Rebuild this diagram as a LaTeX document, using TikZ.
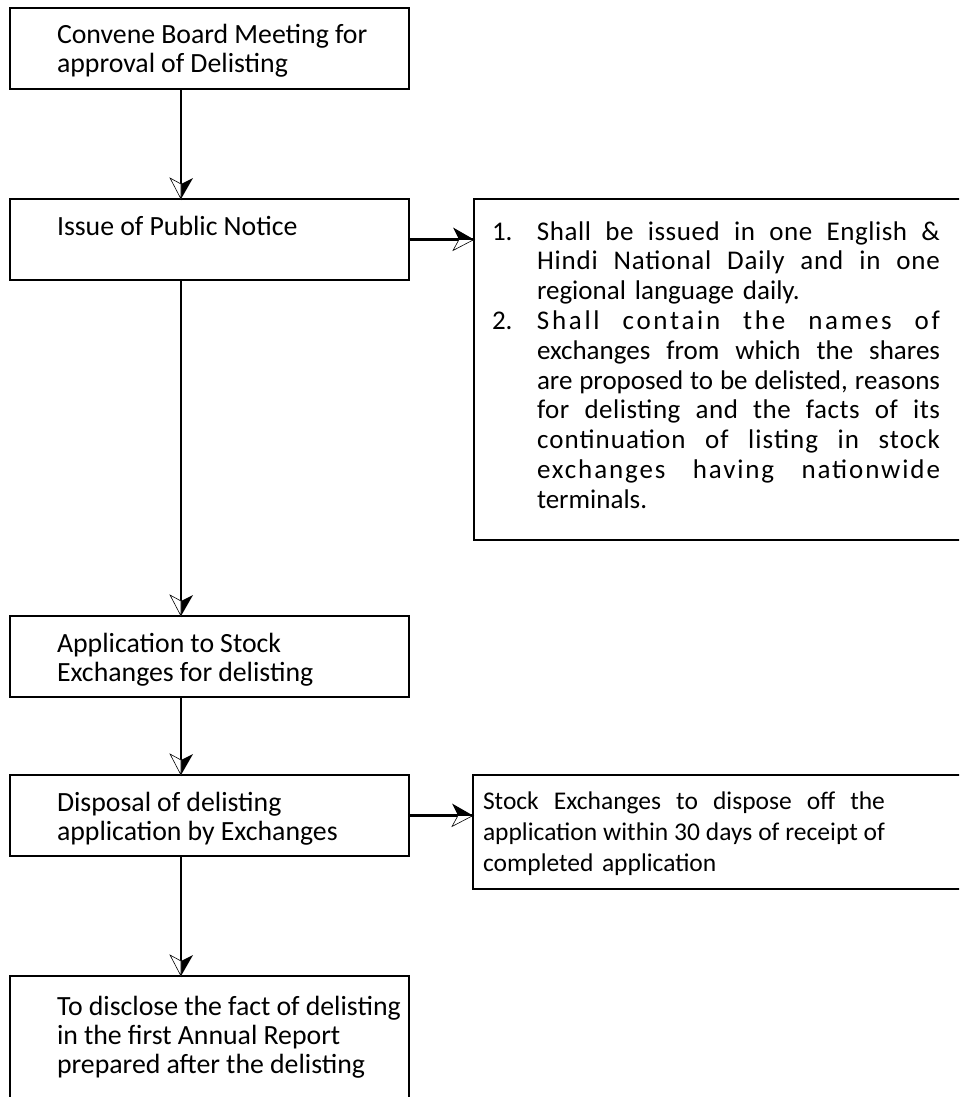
\documentclass[tikz,border=0pt]{standalone}
\usepackage{fontspec}
\setmainfont{Carlito}
\usetikzlibrary{positioning,decorations.markings}

\newcommand{\fullline}[3][0]{\leavevmode\hbox to #2{\addfontfeature{LetterSpace=#1}\spaceskip=.22em plus 1fil minus .08em #3}}

\begin{document}
\begin{tikzpicture}[x=1pt, y=-1pt,
    step node/.style={draw, line width=2.6pt, outer sep=0pt, inner sep=0pt, text width=399pt, align=left,
      text height=36pt, text depth=45pt,
      execute at begin node={\leftskip=47pt\rightskip=-40pt plus 1fil\spaceskip=.22em plus .1em}},
    note node/.style={draw, line width=2.6pt, outer sep=0pt, inner sep=0pt, text width=500pt, align=left},
    flow/.style={line width=2.3pt, postaction={decorate}, decoration={markings, mark=at position 1 with {
        \fill (0pt,0pt) -- (-21pt,12pt) -- (-15pt,0pt) -- cycle;
        \filldraw[fill=white, line width=0.6pt] (0pt,0pt) -- (-21pt,-11pt) -- (-15pt,0pt) -- cycle;}}}]
  \tikzstyle{every node}=[font=\fontsize{27.8}{29}\selectfont]
  \clip (0,0) rectangle (959,1097);

  % main column
  \node[step node, anchor=north west] (1) at (10,8) {Convene Board Meeting for\\approval of Delisting};
  \node[step node] (2) [below=110pt of 1] {Issue of Public Notice\\\mbox{}};
  \node[step node] (3) [below=336pt of 2] {Application to Stock\\Exchanges for delisting};
  \node[step node] (4) [below=78pt of 3] {Disposal of delisting\\application by Exchanges};
  \node[step node, text height=39pt, text depth=160pt] (5) [below=120pt of 4] {To disclose the fact of delisting\\in the first Annual Report\\prepared after the delisting};

  % side notes
  \node[note node, text height=41pt, text depth=300pt, font=\fontsize{27}{29.8}\selectfont,
    execute at begin node={\leftskip=18pt}] (6) [right=65pt of 2.north east, anchor=north west] {%
    \makebox[45pt][l]{1.}\fullline[2]{403pt}{Shall be issued in one English \&}\\
    \hspace*{45pt}\fullline[3]{403pt}{Hindi National Daily and in one}\\
    \hspace*{45pt}regional language daily.\\
    \makebox[45pt][l]{2.}\fullline[10]{403pt}{Shall contain the names of}\\
    \hspace*{45pt}\fullline{403pt}{exchanges from which the shares}\\
    \hspace*{45pt}\fullline{403pt}{are proposed to be delisted, reasons}\\
    \hspace*{45pt}\fullline[2]{403pt}{for delisting and the facts of its}\\
    \hspace*{45pt}\fullline[4]{403pt}{continuation of listing in stock}\\
    \hspace*{45pt}\fullline[7]{403pt}{exchanges having nationwide}\\
    \hspace*{45pt}terminals.};
  \node[note node, text height=34pt, text depth=80pt, font=\fontsize{25.5}{31}\selectfont,
    execute at begin node={\leftskip=10pt}] (7) [right=64pt of 4.north east, anchor=north west] {%
    \fullline{402pt}{Stock Exchanges to dispose off the}\\
    \fullline{402pt}{application within 30 days of receipt of}\\
    completed application};

  \coordinate (spine) at (181,0);
  \draw[flow] (1.south -| spine) -- (2.north -| spine);
  \draw[flow] (2.south -| spine) -- (3.north -| spine);
  \draw[flow] (3.south -| spine) -- (4.north -| spine);
  \draw[flow] (4.south -| spine) -- (5.north -| spine);
  \draw[flow] (2.east) -- (2.east -| 6.west);
  \draw[flow] (4.east) -- (4.east -| 7.west);
\end{tikzpicture}
\end{document}
